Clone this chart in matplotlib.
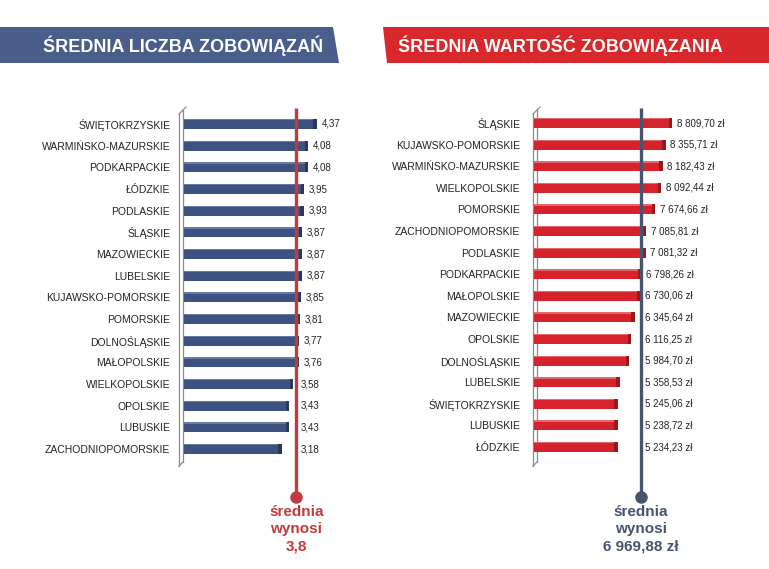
import numpy as np
import matplotlib
matplotlib.use('Agg')
import matplotlib.pyplot as plt
from matplotlib.patches import Polygon

plt.rcParams['font.family'] = ['Liberation Sans', 'DejaVu Sans']

# data
count_regions = ['ŚWIĘTOKRZYSKIE', 'WARMIŃSKO-MAZURSKIE', 'PODKARPACKIE', 'ŁÓDZKIE', 'PODLASKIE',
                 'ŚLĄSKIE', 'MAZOWIECKIE', 'LUBELSKIE', 'KUJAWSKO-POMORSKIE', 'POMORSKIE',
                 'DOLNOŚLĄSKIE', 'MAŁOPOLSKIE', 'WIELKOPOLSKIE', 'OPOLSKIE', 'LUBUSKIE',
                 'ZACHODNIOPOMORSKIE']
count_values = [4.37, 4.08, 4.08, 3.95, 3.93, 3.87, 3.87, 3.87, 3.85, 3.81, 3.77, 3.76, 3.58, 3.43, 3.43, 3.18]
count_mean = 3.8

value_regions = ['ŚLĄSKIE', 'KUJAWSKO-POMORSKIE', 'WARMIŃSKO-MAZURSKIE', 'WIELKOPOLSKIE', 'POMORSKIE',
                 'ZACHODNIOPOMORSKIE', 'PODLASKIE', 'PODKARPACKIE', 'MAŁOPOLSKIE', 'MAZOWIECKIE',
                 'OPOLSKIE', 'DOLNOŚLĄSKIE', 'LUBELSKIE', 'ŚWIĘTOKRZYSKIE', 'LUBUSKIE', 'ŁÓDZKIE']
value_values = [8809.70, 8355.71, 8182.43, 8092.44, 7674.66, 7085.81, 7081.32, 6798.26, 6730.06,
                6345.64, 6116.25, 5984.70, 5358.53, 5245.06, 5238.72, 5234.23]
value_mean = 6969.88

W, H = 769, 569
BLUE = '#3e5282'
BLUE_DARK = '#2a3959'
BLUE_LIGHT = '#6a7ba1'
RED = '#d6222a'
RED_DARK = '#9c161c'
RED_LIGHT = '#e5676b'
MEAN_RED = '#c13a3e'
MEAN_BLUE = '#46546f'


def pl_num(v, dec=2):
    s = f'{v:,.{dec}f}'
    return s.replace(',', ' ').replace('.', ',')


fig = plt.figure(figsize=(W / 100, H / 100), dpi=100)

# background layer in pixel coordinates (banners, 3D walls)
bg = fig.add_axes([0, 0, 1, 1], zorder=0)
bg.set_xlim(0, W)
bg.set_ylim(H, 0)
bg.axis('off')

bg.add_patch(Polygon([(0, 27), (333, 27), (339, 63), (0, 63)], closed=True, color='#4a5e8b', lw=0))
bg.add_patch(Polygon([(383, 27), (W, 27), (W, 63), (387, 63)], closed=True, color='#d8282c', lw=0))
bg.text(43, 46, 'ŚREDNIA LICZBA ZOBOWIĄZAŃ', color='white', fontsize=13, fontweight='bold',
        ha='left', va='center')
bg.text(398, 46, 'ŚREDNIA WARTOŚĆ ZOBOWIĄZANIA', color='white', fontsize=13, fontweight='bold',
        ha='left', va='center')

for wx in (179, 533):
    bg.plot([wx, wx], [114, 466], color='#8a8a8a', lw=0.9)
    bg.plot([wx + 4, wx + 4], [110, 462], color='#8a8a8a', lw=0.9)
    bg.plot([wx, wx + 7], [114, 107], color='#8a8a8a', lw=0.9)
    bg.plot([wx, wx + 4], [466, 462], color='#8a8a8a', lw=0.9)


def panel(x0, x1, px_per_unit, row0, row_step, labels, values, mean, colors, mean_color,
          fmt, mean_text):
    color, dark, light = colors
    bottom = 1 - 462 / H
    height = (462 - 108) / H
    ax = fig.add_axes([x0 / W, bottom, (x1 - x0) / W, height], zorder=2)
    ax.patch.set_alpha(0)
    ax.set_xlim(0, (x1 - x0) / px_per_unit)
    ytop = -(row0 - 108) / row_step
    ybot = (462 - row0) / row_step
    ax.set_ylim(ybot, ytop)
    y = np.arange(len(labels))
    cap = 3.5 / px_per_unit
    bh = 0.46
    ax.barh(y, values, height=bh, color=color, lw=0, zorder=3)
    # light top edge and darker end face for the 3D look
    ax.barh(y - bh / 2 + 0.03, values, height=0.06, color=light, lw=0, zorder=3)
    ax.barh(y, cap, left=values, height=bh, color=dark, lw=0, zorder=3)
    ax.set_yticks(y)
    ax.set_yticklabels(labels, fontsize=7.5, color='#222222')
    ax.tick_params(axis='y', length=0, pad=10)
    ax.set_xticks([])
    for s in ax.spines.values():
        s.set_visible(False)

    off = 4.5 / px_per_unit
    for yi, v in zip(y, values):
        ax.text(max(v + cap, mean) + off, yi, fmt(v), fontsize=7, color='#222222',
                ha='left', va='center', zorder=4)

    dot_y = (497 - row0) / row_step
    ax.plot([mean, mean], [ytop, dot_y], color=mean_color, lw=2.4, clip_on=False, zorder=5,
            solid_capstyle='butt')
    ax.plot([mean], [dot_y], 'o', color=mean_color, ms=8, clip_on=False, zorder=5)
    ax.text(mean, (505 - row0) / row_step, mean_text, color=mean_color, fontsize=11,
            fontweight='bold', ha='center', va='top', linespacing=1.3, clip_on=False)
    return ax


panel(184, 340, 29.6, 124, 21.67, count_regions, count_values, count_mean,
      (BLUE, BLUE_DARK, BLUE_LIGHT), MEAN_RED,
      lambda v: pl_num(v), 'średnia\nwynosi\n' + pl_num(count_mean, 1))
panel(534, W, 0.01532, 123, 21.6, value_regions, value_values, value_mean,
      (RED, RED_DARK, RED_LIGHT), MEAN_BLUE,
      lambda v: pl_num(v) + ' zł', 'średnia\nwynosi\n' + pl_num(value_mean) + ' zł')

fig.savefig('out.png', dpi=100, facecolor='white')
